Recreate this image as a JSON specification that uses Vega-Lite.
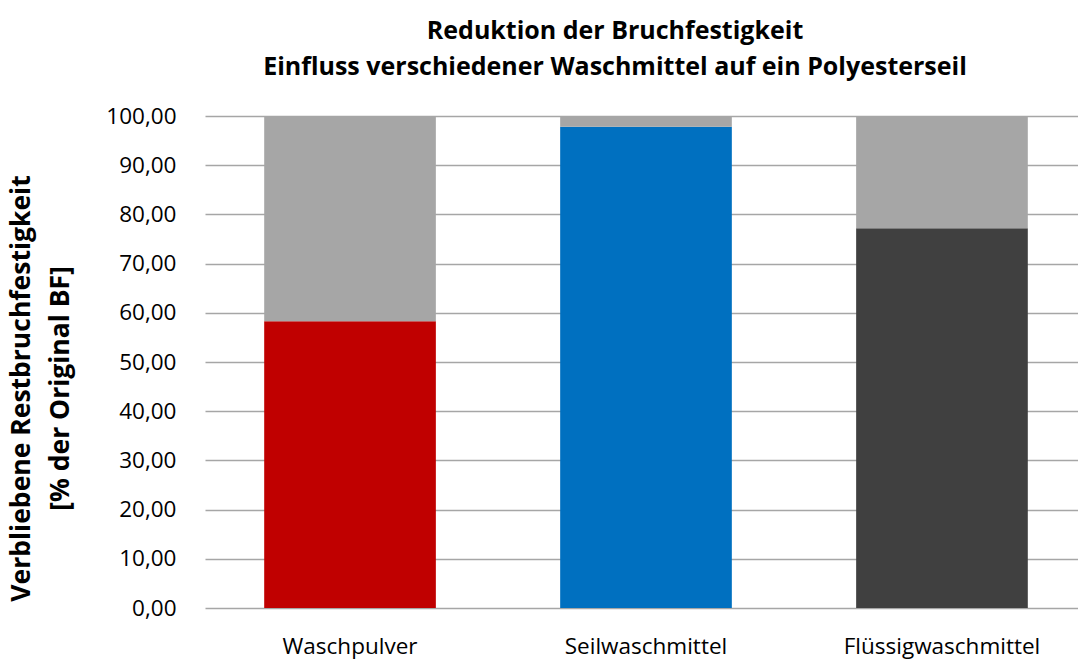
{
  "$schema": "https://vega.github.io/schema/vega-lite/v6.json",
  "width": 876,
  "height": 492,
  "autosize": {"type": "none"},
  "padding": {"left": 200, "top": 116, "right": 2, "bottom": 51},
  "background": "white",
  "title": {
    "text": ["Reduktion der Bruchfestigkeit", "Einfluss verschiedener Waschmittel auf ein Polyesterseil"],
    "anchor": "middle",
    "frame": "group",
    "dx": -23,
    "offset": 25,
    "font": "Open Sans",
    "fontSize": 25,
    "fontWeight": "bold",
    "color": "#000000",
    "lineHeight": 36
  },
  "data": {
    "values": [
      {"Waschmittel": "Waschpulver", "Anteil": "Rest", "Farbe": "Waschpulver", "Wert": 58.3},
      {"Waschmittel": "Waschpulver", "Anteil": "Reduktion", "Farbe": "Reduktion", "Wert": 41.7},
      {"Waschmittel": "Seilwaschmittel", "Anteil": "Rest", "Farbe": "Seilwaschmittel", "Wert": 97.8},
      {"Waschmittel": "Seilwaschmittel", "Anteil": "Reduktion", "Farbe": "Reduktion", "Wert": 2.2},
      {"Waschmittel": "Flüssigwaschmittel", "Anteil": "Rest", "Farbe": "Flüssigwaschmittel", "Wert": 77.2},
      {"Waschmittel": "Flüssigwaschmittel", "Anteil": "Reduktion", "Farbe": "Reduktion", "Wert": 22.8}
    ]
  },
  "mark": {"type": "bar"},
  "encoding": {
    "x": {
      "field": "Waschmittel",
      "type": "nominal",
      "sort": ["Waschpulver", "Seilwaschmittel", "Flüssigwaschmittel"],
      "scale": {"paddingInner": 0.42, "paddingOuter": 0.2, "range": [5, 887]},
      "axis": {
        "title": null,
        "labelAngle": 0,
        "domain": false,
        "ticks": false,
        "labelFont": "Open Sans",
        "labelFontSize": 22.5,
        "labelColor": "#000000",
        "labelPadding": 27,
        "labelLimit": 0
      }
    },
    "y": {
      "field": "Wert",
      "type": "quantitative",
      "stack": "zero",
      "scale": {"domain": [0, 100], "nice": false},
      "axis": {
        "title": ["Verbliebene Restbruchfestigkeit", "[% der Original BF]"],
        "titleFont": "Open Sans",
        "titleFontSize": 26.5,
        "titleFontWeight": "bold",
        "titleColor": "#000000",
        "titleLineHeight": 39,
        "titleY": 272,
        "titleX": -165,
        "values": [0, 10, 20, 30, 40, 50, 60, 70, 80, 90, 100],
        "labelExpr": "replace(format(datum.value, '.2f'), '.', ',')",
        "labelFont": "Open Sans",
        "labelFontSize": 22.5,
        "labelColor": "#000000",
        "labelPadding": 24,
        "domain": false,
        "ticks": false,
        "grid": true,
        "gridColor": "#a6a6a6",
        "gridWidth": 1.3
      }
    },
    "color": {
      "field": "Farbe",
      "type": "nominal",
      "scale": {
        "domain": ["Waschpulver", "Seilwaschmittel", "Flüssigwaschmittel", "Reduktion"],
        "range": ["#c00000", "#0070c0", "#404040", "#a6a6a6"]
      },
      "legend": null
    },
    "order": {"field": "Anteil", "sort": "descending"}
  },
  "config": {"view": {"stroke": null}}
}
